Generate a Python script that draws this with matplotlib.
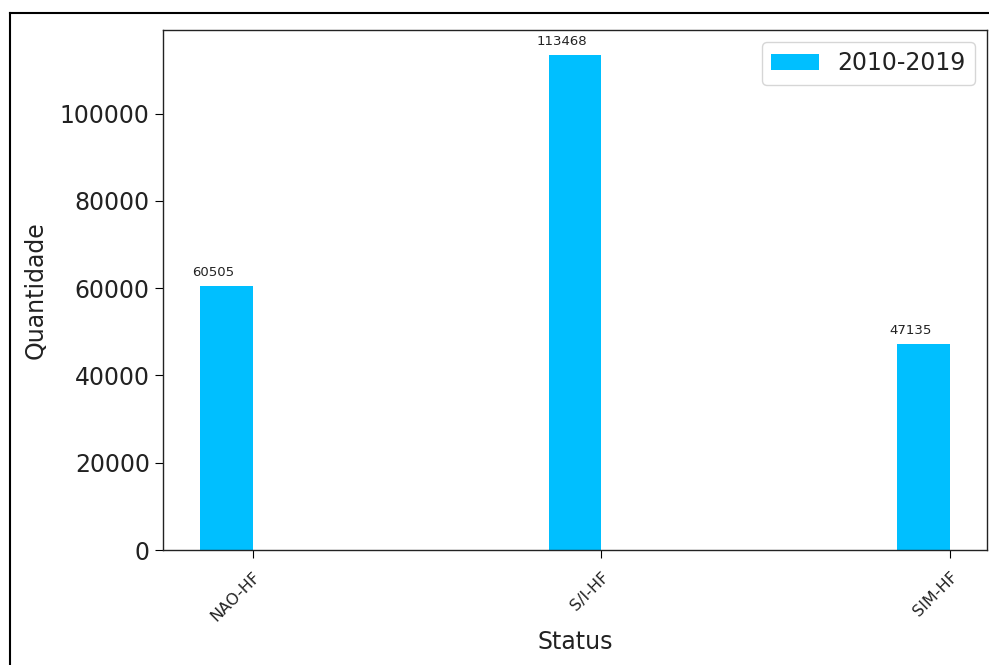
import matplotlib.pyplot as plt
from matplotlib.lines import Line2D
import numpy as np

status = ["NAO-HF", "S/I-HF", "SIM-HF"]
quantidade = [60505, 113468, 47135]
periodo = "2010-2019"

plt.rcParams['text.color'] = '#222222'
plt.rcParams['xtick.labelcolor'] = '#222222'
plt.rcParams['ytick.labelcolor'] = '#222222'
plt.rcParams['axes.labelcolor'] = '#222222'
plt.rcParams['axes.edgecolor'] = '#222222'
plt.rcParams['axes.linewidth'] = 1.0

fig = plt.figure(figsize=(9.89, 6.65), dpi=100)
ax = fig.add_axes([163 / 989, 115 / 665, 824 / 989, 520 / 665])

x = np.arange(len(status))
width = 0.15
bars = ax.bar(x, quantidade, width=-width, align='edge', color='deepskyblue', label=periodo)

# value labels above each bar
for b, v in zip(bars, quantidade):
    ax.annotate(str(v), (b.get_x() + b.get_width() / 2, v), xytext=(-9.5, 5),
                textcoords='offset points', ha='center', va='bottom', fontsize=9.5)

ax.set_xticks(x)
ax.set_xticklabels(status, rotation=45, ha='right', rotation_mode='anchor', fontsize=11.5)
ax.tick_params(axis='y', labelsize=17, length=6)
ax.tick_params(axis='x', length=6, pad=8)
ax.set_xlabel("Status", fontsize=17, labelpad=4)
ax.set_ylabel("Quantidade", fontsize=17, labelpad=8.5)
ax.legend(loc='upper right', fontsize=17)

# outer frame of the screenshot
fig.add_artist(Line2D([9.5 / 989, 9.5 / 989], [0, 1 - 13 / 665], color='black', lw=1.5))
fig.add_artist(Line2D([9.5 / 989, 1], [1 - 13 / 665, 1 - 13 / 665], color='black', lw=1.5))

fig.savefig("out.png", dpi=100)
